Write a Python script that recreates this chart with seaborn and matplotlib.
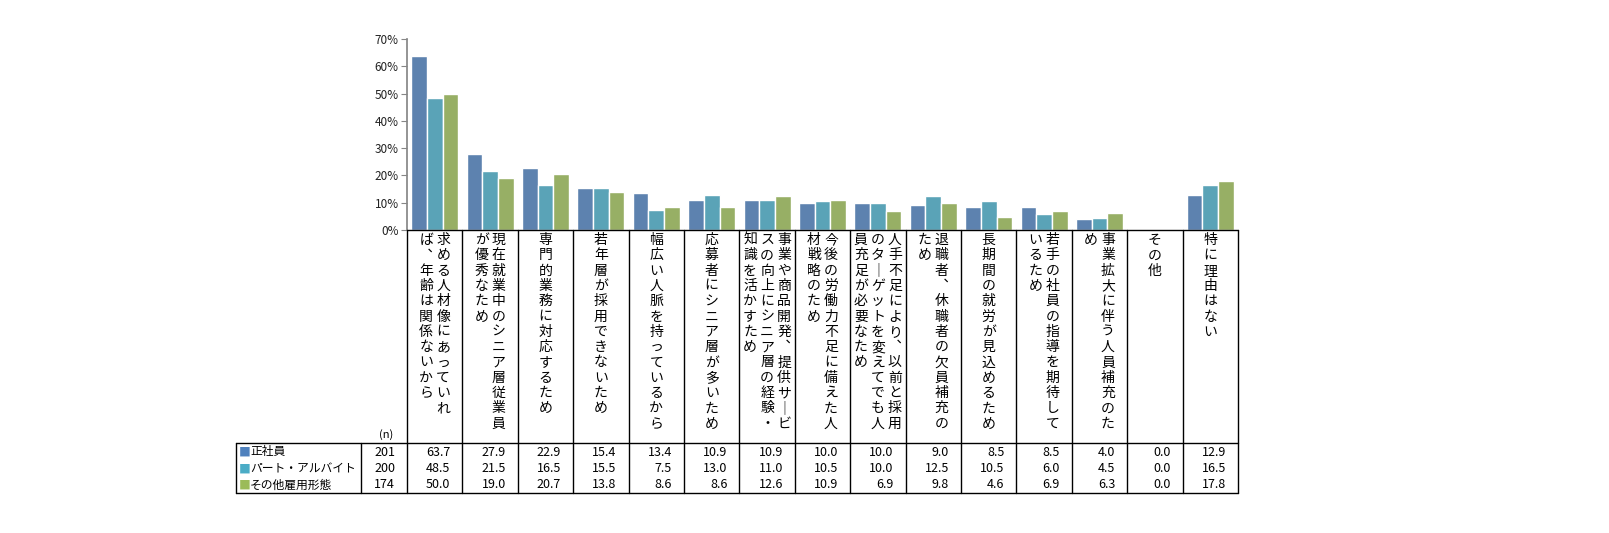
import seaborn as sns
from matplotlib import pyplot as plt
import matplotlib.ticker as ticker
import pandas as pd

sns.set_theme(style='white')
plt.rcParams['font.family'] = ['Noto Sans CJK JP', 'DejaVu Sans']

categories = [
    "求める人材像にあっていれ\nば、年齢は関係ないから",
    "現在就業中のシニア層従業員\nが優秀なため",
    "専門的業務に対応するため",
    "若年層が採用できないため",
    "幅広い人脈を持っているから",
    "応募者にシニア層が多いため",
    "事業や商品開発、提供サービ\nスの向上にシニア層の経験・\n知識を活かすため",
    "今後の労働力不足に備えた人\n材戦略のため",
    "人手不足により、以前と採用\nのターゲットを変えてでも人\n員充足が必要なため",
    "退職者、休職者の欠員補充の\nため",
    "長期間の就労が見込めるため",
    "若手の社員の指導を期待して\nいるため",
    "事業拡大に伴う人員補充のた\nめ",
    "その他",
    "特に理由はない",
]
series = ["正社員", "パート・アルバイト", "その他雇用形態"]
n_values = [201, 200, 174]
seishain = [63.7, 27.9, 22.9, 15.4, 13.4, 10.9, 10.9, 10.0, 10.0, 9.0, 8.5, 8.5, 4.0, 0.0, 12.9]
part = [48.5, 21.5, 16.5, 15.5, 7.5, 13.0, 11.0, 10.5, 10.0, 12.5, 10.5, 6.0, 4.5, 0.0, 16.5]
sonota = [50.0, 19.0, 20.7, 13.8, 8.6, 8.6, 12.6, 10.9, 6.9, 9.8, 4.6, 6.9, 6.3, 0.0, 17.8]
colors = ["#4F81BD", "#4BACC6", "#9BBB59"]

rows = []
for s, vals in zip(series, [seishain, part, sonota]):
    for c, v in zip(categories, vals):
        rows.append({'category': c, 'series': s, 'value': v})
df = pd.DataFrame(rows)

W, H = 1609, 533
x0, x1 = 407, 1238          # table cell area / plot area (pixels)
y_zero, y_top = 230, 39
cw = (x1 - x0) / len(categories)

fig = plt.figure(figsize=(W / 100, H / 100), dpi=100)
ax = fig.add_axes([x0 / W, (H - y_zero) / H, (x1 - x0) / W, (y_zero - y_top) / H])
sns.barplot(data=df, x='category', y='value', hue='series', palette=colors,
            width=0.85, edgecolor='white', linewidth=1, legend=False, ax=ax)
ax.set_xlim(-0.5, len(categories) - 0.5)
ax.set_ylim(0, 70)
ax.set_yticks(range(0, 71, 10))
ax.yaxis.set_major_formatter(ticker.FuncFormatter(lambda v, p: f"{v:.0f}%"))
ax.set_xticks([])
ax.set_xlabel("")
ax.set_ylabel("")
for side in ['top', 'right', 'bottom']:
    ax.spines[side].set_visible(False)
ax.spines['left'].set_color('#868686')
ax.tick_params(axis='y', left=True, length=4, width=0.8, color='#868686',
               labelsize=8.5, pad=2, labelcolor='#222222')

# table drawn in pixel coordinates
tab = fig.add_axes([0, 0, 1, 1])
tab.set_xlim(0, W)
tab.set_ylim(H, 0)
tab.axis('off')

t_left, lab_right, row_top, t_bottom = 236, 361, 443, 493
lw = 1.0
tab.plot([x0, x1], [y_zero, y_zero], color='black', lw=lw)
tab.plot([t_left, x1], [row_top, row_top], color='black', lw=lw)
tab.plot([t_left, x1], [t_bottom, t_bottom], color='black', lw=lw)
tab.plot([t_left, t_left], [row_top, t_bottom], color='black', lw=lw)
tab.plot([lab_right, lab_right], [row_top, t_bottom], color='black', lw=lw)
for i in range(len(categories) + 1):
    xe = x0 + i * cw
    tab.plot([xe, xe], [y_zero, t_bottom], color='black', lw=lw)

# vertical category labels (columns right to left)
vmap = {'ー': '｜', '、': '︑'}
for i, lab in enumerate(categories):
    cx = x0 + (i + 0.5) * cw
    cols = lab.split("\n")
    nc = len(cols)
    for j, col in enumerate(cols):
        tx = cx + ((nc - 1) / 2 - j) * 17
        for k, ch in enumerate(col):
            tab.text(tx, 240 + k * 15.3, vmap.get(ch, ch), ha='center', va='center',
                     fontsize=10, color='black')

tab.text(393, 435, "(n)", ha='right', va='center', fontsize=8, color='black')

row_y = [452, 469, 485]
for r, (s, nv, vals, col) in enumerate(zip(series, n_values, [seishain, part, sonota], colors)):
    y = row_y[r]
    tab.text(239, y, "■", ha='left', va='center', fontsize=8.5, color=col)
    tab.text(250, y, s, ha='left', va='center', fontsize=8.5, color='black')
    tab.text(395, y, str(nv), ha='right', va='center', fontsize=9, color='black')
    for i, v in enumerate(vals):
        tab.text(x0 + (i + 1) * cw - 12, y, f"{v:.1f}", ha='right', va='center',
                 fontsize=9, color='black')

plt.savefig('out.png', dpi=100)
